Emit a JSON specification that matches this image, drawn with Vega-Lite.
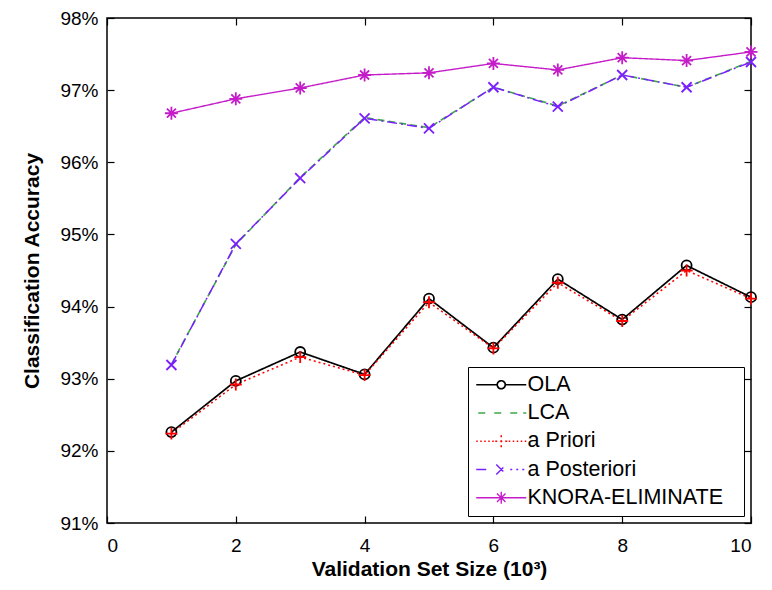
{
  "$schema": "https://vega.github.io/schema/vega-lite/v6.json",
  "width": 644,
  "height": 505,
  "autosize": {"type": "none"},
  "padding": {"left": 107, "top": 18, "right": 21, "bottom": 67},
  "background": "white",
  "config": {
    "view": {"stroke": "black", "strokeWidth": 1.5},
    "font": "Liberation Sans",
    "axis": {
      "labelFont": "Liberation Sans",
      "labelFontSize": 19,
      "labelColor": "black",
      "titleFont": "Liberation Sans",
      "titleFontWeight": "bold",
      "titleColor": "black",
      "tickColor": "black",
      "tickWidth": 1.2,
      "domain": false,
      "grid": false
    }
  },
  "data": {
    "values": [
      {"x": 1, "method": "OLA", "acc": 92.26},
      {"x": 2, "method": "OLA", "acc": 92.97},
      {"x": 3, "method": "OLA", "acc": 93.37},
      {"x": 4, "method": "OLA", "acc": 93.06},
      {"x": 5, "method": "OLA", "acc": 94.11},
      {"x": 6, "method": "OLA", "acc": 93.43},
      {"x": 7, "method": "OLA", "acc": 94.38},
      {"x": 8, "method": "OLA", "acc": 93.82},
      {"x": 9, "method": "OLA", "acc": 94.57},
      {"x": 10, "method": "OLA", "acc": 94.13},
      {"x": 1, "method": "LCA", "acc": 93.2},
      {"x": 2, "method": "LCA", "acc": 94.86},
      {"x": 3, "method": "LCA", "acc": 95.79},
      {"x": 4, "method": "LCA", "acc": 96.62},
      {"x": 5, "method": "LCA", "acc": 96.48},
      {"x": 6, "method": "LCA", "acc": 97.04},
      {"x": 7, "method": "LCA", "acc": 96.78},
      {"x": 8, "method": "LCA", "acc": 97.21},
      {"x": 9, "method": "LCA", "acc": 97.04},
      {"x": 10, "method": "LCA", "acc": 97.4},
      {"x": 1, "method": "a Priori", "acc": 92.24},
      {"x": 2, "method": "a Priori", "acc": 92.92},
      {"x": 3, "method": "a Priori", "acc": 93.3},
      {"x": 4, "method": "a Priori", "acc": 93.05},
      {"x": 5, "method": "a Priori", "acc": 94.06},
      {"x": 6, "method": "a Priori", "acc": 93.42},
      {"x": 7, "method": "a Priori", "acc": 94.33},
      {"x": 8, "method": "a Priori", "acc": 93.8},
      {"x": 9, "method": "a Priori", "acc": 94.5},
      {"x": 10, "method": "a Priori", "acc": 94.11},
      {"x": 1, "method": "a Posteriori", "acc": 93.19},
      {"x": 2, "method": "a Posteriori", "acc": 94.87},
      {"x": 3, "method": "a Posteriori", "acc": 95.78},
      {"x": 4, "method": "a Posteriori", "acc": 96.61},
      {"x": 5, "method": "a Posteriori", "acc": 96.47},
      {"x": 6, "method": "a Posteriori", "acc": 97.04},
      {"x": 7, "method": "a Posteriori", "acc": 96.77},
      {"x": 8, "method": "a Posteriori", "acc": 97.21},
      {"x": 9, "method": "a Posteriori", "acc": 97.04},
      {"x": 10, "method": "a Posteriori", "acc": 97.39},
      {"x": 1, "method": "KNORA-ELIMINATE", "acc": 96.68},
      {"x": 2, "method": "KNORA-ELIMINATE", "acc": 96.88},
      {"x": 3, "method": "KNORA-ELIMINATE", "acc": 97.03},
      {"x": 4, "method": "KNORA-ELIMINATE", "acc": 97.21},
      {"x": 5, "method": "KNORA-ELIMINATE", "acc": 97.24},
      {"x": 6, "method": "KNORA-ELIMINATE", "acc": 97.37},
      {"x": 7, "method": "KNORA-ELIMINATE", "acc": 97.28},
      {"x": 8, "method": "KNORA-ELIMINATE", "acc": 97.45},
      {"x": 9, "method": "KNORA-ELIMINATE", "acc": 97.41},
      {"x": 10, "method": "KNORA-ELIMINATE", "acc": 97.53}
    ]
  },
  "layer": [
    {
      "mark": {"type": "line", "clip": false},
      "encoding": {
        "x": {
          "field": "x", "type": "quantitative",
          "scale": {"domain": [0, 10], "nice": false},
          "axis": {"orient": "bottom", "values": [0, 2, 4, 6, 8, 10], "tickSize": -7, "labelPadding": 20, "title": "Validation Set Size (10³)", "titleFontSize": 21, "titlePadding": 3}
        },
        "y": {
          "field": "acc", "type": "quantitative",
          "scale": {"domain": [91, 98], "nice": false, "zero": false},
          "axis": {"orient": "left", "values": [91, 92, 93, 94, 95, 96, 97, 98], "tickSize": -7, "labelPadding": 16, "labelExpr": "format(datum.value, 'd') + '%'", "title": "Classification Accuracy", "titleFontSize": 21, "titlePadding": 17}
        },
        "color": {
          "field": "method", "type": "nominal",
          "scale": {
            "domain": ["OLA", "LCA", "a Priori", "a Posteriori", "KNORA-ELIMINATE"],
            "range": ["#000000", "#3fa84a", "#ff0000", "#7b1fff", "#c41cc8"]
          },
          "legend": {
            "title": null,
            "orient": "bottom-right",
            "offset": 7,
            "padding": 7,
            "fillColor": "white",
            "strokeColor": "black",
            "labelFont": "Liberation Sans",
            "labelFontSize": 21.5,
            "labelColor": "black",
            "labelLimit": 400,
            "symbolSize": 100,
            "symbolStrokeWidth": 1.6,
            "symbolOffset": 15.5,
            "labelOffset": 15.5,
            "rowPadding": 5.25,
            "encode": {
              "symbols": {
                "update": {
                  "shape": {"signal": "(datum.value === 'OLA' ? 'M-5,0L-0.8,0M0.8,0L5,0M-0.8,0A0.8,0.8,0,1,0,0.8,0A0.8,0.8,0,1,0,-0.8,0' : datum.value === 'LCA' ? 'M-4.6,0L-3,0M-1.4,0L0.2,0M1.8,0L3.4,0M4.4,0L5,0' : datum.value === 'a Priori' ? 'M-5,0L-4.7,0M-4.2,0L-3.9,0M-3.4,0L-3.1,0M-2.6,0L-2.3,0M-1.8,0L-1.5,0M-1.2,0L1.2,0M0,-1.2L0,1.2M1.5,0L1.8,0M2.3,0L2.6,0M3.1,0L3.4,0M3.9,0L4.2,0M4.7,0L5,0' : datum.value === 'a Posteriori' ? 'M-5,0L-2.6,0M-1,-1L1,1M-1,1L1,-1M1.8,0L2.2,0M3,0L3.4,0M4.2,0L4.6,0' : 'M-5,0L5,0M0,-1.2L0,1.2M-0.85,-0.85L0.85,0.85M-0.85,0.85L0.85,-0.85') + 'M46.4,0'"}
                }
              }
            }
          }
        },
        "strokeDash": {
          "field": "method", "type": "nominal", "legend": null,
          "scale": {
            "domain": ["OLA", "LCA", "a Priori", "a Posteriori", "KNORA-ELIMINATE"],
            "range": [[1, 0], [7, 4], [2, 3], [10, 4, 2, 4], [1, 0]]
          }
        },
        "strokeWidth": {
          "field": "method", "type": "nominal", "legend": null,
          "scale": {
            "domain": ["OLA", "LCA", "a Priori", "a Posteriori", "KNORA-ELIMINATE"],
            "range": [1.7, 1.4, 1.6, 1.8, 2.4]
          }
        },
        "order": {"field": "x", "type": "quantitative"}
      }
    },
    {
      "transform": [{"filter": "datum.method !== 'LCA'"}],
      "mark": {"type": "point", "filled": false, "size": 100, "strokeWidth": 1.8, "opacity": 1, "clip": false},
      "encoding": {
        "x": {
          "field": "x", "type": "quantitative",
          "axis": {"orient": "top", "values": [0, 2, 4, 6, 8, 10], "tickSize": -7, "labels": false, "title": null}
        },
        "y": {
          "field": "acc", "type": "quantitative",
          "axis": {"orient": "right", "values": [91, 92, 93, 94, 95, 96, 97, 98], "tickSize": -7, "labels": false, "title": null}
        },
        "color": {"field": "method", "type": "nominal", "legend": null},
        "shape": {
          "field": "method", "type": "nominal", "legend": null,
          "scale": {
            "domain": ["OLA", "a Priori", "a Posteriori", "KNORA-ELIMINATE"],
            "range": ["circle", "M-1.2,0L1.2,0M0,-1.2L0,1.2", "M-1,-1L1,1M-1,1L1,-1", "M-1.3,0L1.3,0M0,-1.3L0,1.3M-0.9,-0.9L0.9,0.9M-0.9,0.9L0.9,-0.9"]
          }
        }
      }
    }
  ],
  "resolve": {"axis": {"x": "independent", "y": "independent"}}
}
